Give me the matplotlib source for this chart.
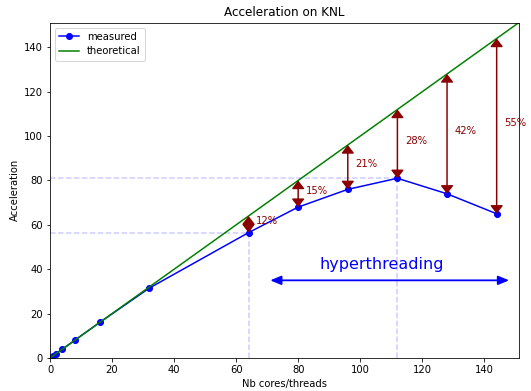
import matplotlib
matplotlib.use("Agg")
import matplotlib.pyplot as plt
import numpy as np

threads = [1, 2, 4, 8, 16, 32, 64, 80, 96, 112, 128, 144]
measured = [1, 2, 4, 8, 16, 31.5, 56.5, 68, 76, 81, 74, 65]
theory_x = [0, 160]
gap_threads = [64, 80, 96, 112, 128, 144]
gap_labels = ["12%", "15%", "21%", "28%", "42%", "55%"]
ref_points = [64, 112]

fig = plt.figure(figsize=(531/72, 391/72), dpi=72)
ax = fig.add_axes([50/531, 33/391, 469/531, 335.5/391])

ax.plot(threads, measured, 'b-o', label='measured', markersize=6)
ax.plot(theory_x, theory_x, 'g-', label='theoretical')

meas_map = dict(zip(threads, measured))
for rx in ref_points:
    ry = meas_map[rx]
    ax.plot([0, rx], [ry, ry], '--', color='blue', alpha=0.2)
    ax.plot([rx, rx], [0, ry], '--', color='blue', alpha=0.2)

for x, lab in zip(gap_threads, gap_labels):
    y = meas_map[x]
    ax.annotate('', xy=(x, x), xytext=(x, y),
                arrowprops=dict(arrowstyle='<|-|>,head_width=0.35,head_length=0.45',
                                color='darkred', lw=1.5,
                                mutation_scale=15, shrinkA=0, shrinkB=0))
    ax.text(x + 2.5, (x + y) / 2, lab, color='darkred', fontsize=10)

ax.annotate('', xy=(71, 35), xytext=(148, 35),
            arrowprops=dict(arrowstyle='<|-|>,head_width=0.25,head_length=0.6',
                            color='blue', lw=1.8,
                            mutation_scale=15, shrinkA=0, shrinkB=0))
ax.text(87, 40, 'hyperthreading', color='blue', fontsize=16)

ax.set_xlim(0, 151.2)
ax.set_ylim(0, 151.2)
ax.set_title('Acceleration on KNL')
ax.set_xlabel('Nb cores/threads')
ax.set_ylabel('Acceleration')
ax.legend(loc='upper left')

fig.savefig('out.png', dpi=72)
